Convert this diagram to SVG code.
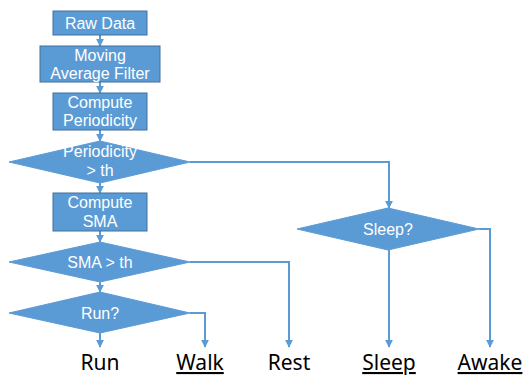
<svg xmlns="http://www.w3.org/2000/svg" width="523" height="376" viewBox="0 0 523 376">
<defs>
<style>
.box{fill:#5B9BD5;stroke:#41719C;stroke-width:1}
.dia{fill:#5B9BD5;stroke:#5B9BD5;stroke-width:1}
.t{font-family:"Liberation Sans",Arial,sans-serif;font-size:16px;fill:#fff;text-anchor:middle}
.lbl{font-family:"Noto Sans","Open Sans",sans-serif;font-size:21px;fill:#000;text-anchor:middle}
.c{fill:none;stroke:#5B9BD5;stroke-width:2;marker-end:url(#ah)}
</style>
<marker id="ah" viewBox="0 0 10 10" refX="9" refY="5" markerWidth="4" markerHeight="4" orient="auto" markerUnits="strokeWidth">
<path d="M0,0L10,5L0,10z" fill="#5B9BD5"/>
</marker>
</defs>
<rect width="523" height="376" fill="#fff"/>
<g id="connectors">
<path class="c" d="M100,35V46"/>
<path class="c" d="M100,82V93"/>
<path class="c" d="M100,130V141"/>
<path class="c" d="M100,183V193"/>
<path class="c" d="M100,231V242"/>
<path class="c" d="M100,282V292"/>
<path class="c" d="M100,333V347"/>
<path class="c" d="M190,313H205V347"/>
<path class="c" d="M190,262H289V347"/>
<path class="c" d="M190,162H389V208"/>
<path class="c" d="M389,250V347"/>
<path class="c" d="M479,229H490V347"/>
</g>
<g id="raw"><rect class="box" x="53" y="11" width="94" height="24"/><text class="t" x="100" y="29">Raw Data</text></g>
<g id="maf"><rect class="box" x="40" y="46" width="120" height="36"/><text class="t" x="100" y="61">Moving</text><text class="t" x="100" y="79">Average Filter</text></g>
<g id="cp"><rect class="box" x="53" y="93" width="94" height="37"/><text class="t" x="100" y="108">Compute</text><text class="t" x="100" y="126">Periodicity</text></g>
<g id="pth"><polygon class="dia" points="100,141 190,162 100,183 9,162"/><text class="t" x="100" y="157">Periodicity</text><text class="t" x="100" y="176">&gt;  th</text></g>
<g id="csma"><rect class="box" x="53" y="193" width="94" height="38"/><text class="t" x="100" y="208">Compute</text><text class="t" x="100" y="227">SMA</text></g>
<g id="sth"><polygon class="dia" points="100,242 190,262 100,282 9,262"/><text class="t" x="100" y="268">SMA  &gt;  th</text></g>
<g id="run"><polygon class="dia" points="100,292 190,313 100,333 9,313"/><text class="t" x="100" y="319">Run?</text></g>
<g id="sleepq"><polygon class="dia" points="388,208 479,229 388,250 297,229"/><text class="t" x="388" y="235">Sleep?</text></g>
<g id="labels">
<text class="lbl" x="100" y="370">Run</text>
<text class="lbl" x="200" y="370" text-decoration="underline">Walk</text>
<text class="lbl" x="289" y="370">Rest</text>
<text class="lbl" x="389" y="370" text-decoration="underline">Sleep</text>
<text class="lbl" x="490" y="370" text-decoration="underline">Awake</text>
</g>
</svg>
